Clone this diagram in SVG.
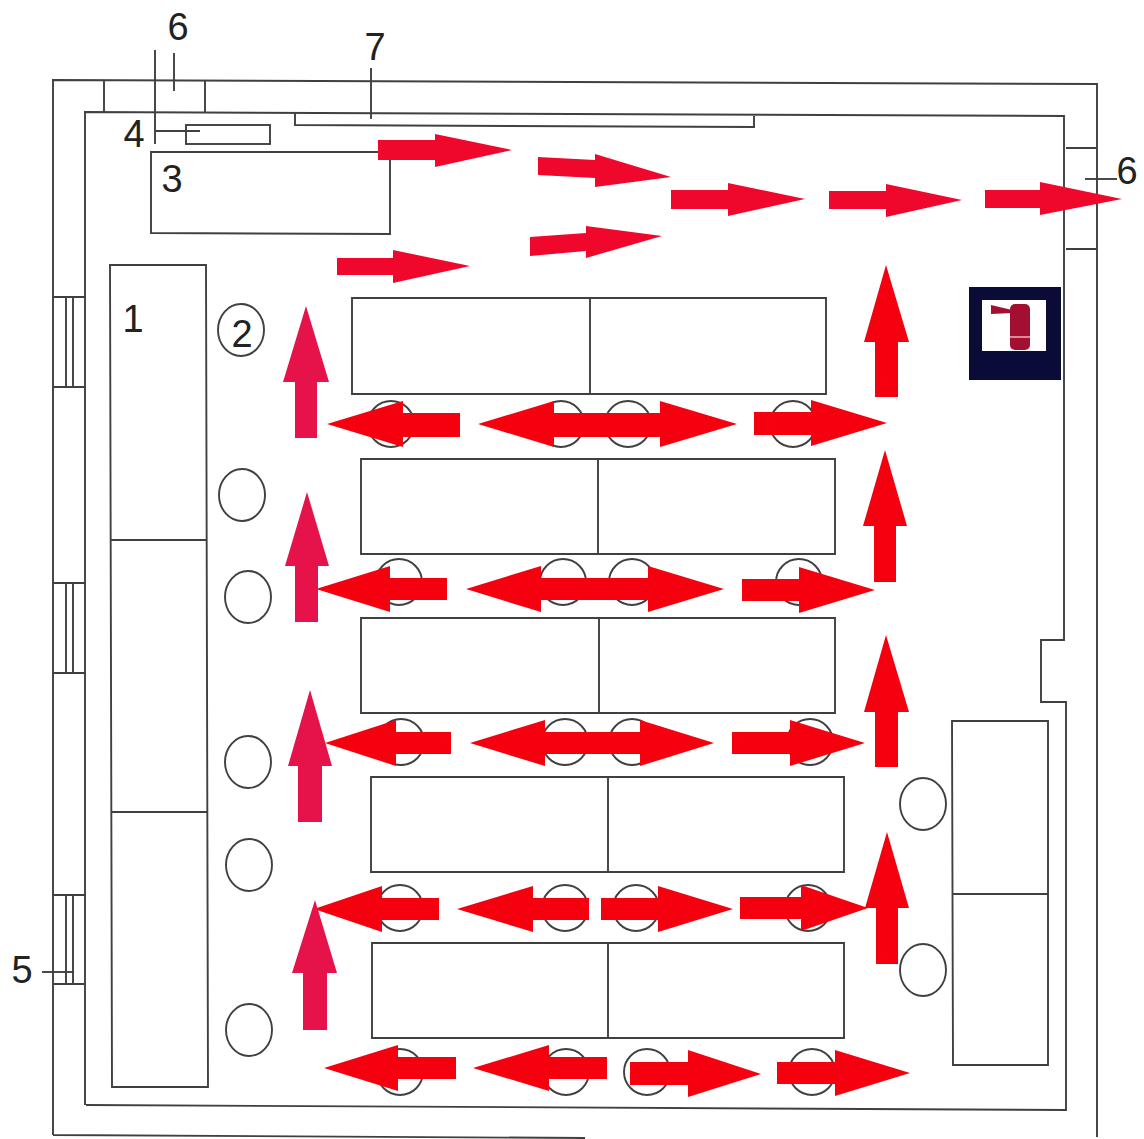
<svg xmlns="http://www.w3.org/2000/svg" width="1144" height="1139" viewBox="0 0 1144 1139">
<style>
.l{fill:none;stroke:#404040;stroke-width:1.9}
.t{font-family:"Liberation Sans",Arial,sans-serif;font-size:38px;fill:#222}
.a{fill:#f0082c}
.r{fill:#f5000f}
.p{fill:#e6124a}
</style>
<rect width="1144" height="1139" fill="#fff"/>
<g id="walls">
<path class="l" d="M53 1135V80L1097 84V1137M53 1135L585 1138"/>
<path class="l" d="M85 1105V112L1064 116V640H1041V702H1066V1110L86 1105"/>
<path class="l" d="M104 80V112M205 80V112M1066 148H1097M1066 249H1097"/>
</g>
<g id="windows">
<path class="l" d="M53 297H86M53 387H86M66 297V387M73 297V387"/>
<path class="l" d="M53 583H86M53 673H86M66 583V673M73 583V673"/>
<path class="l" d="M53 895H86M53 984H86M66 895V984M73 895V984"/>
</g>
<g id="item-1"><path class="l" d="M110 265H206L208 1087H112ZM111 540H207M112 812H208"/><text class="t" x="133" y="332" text-anchor="middle">1</text></g>
<g id="item-3"><path class="l" d="M151 152H390V234L151 233Z"/><text class="t" x="172" y="192" text-anchor="middle">3</text></g>
<g id="item-4"><rect class="l" x="186" y="125" width="84" height="19"/><path class="l" d="M155 50V144M155 131H200"/><text class="t" x="134" y="147" text-anchor="middle">4</text></g>
<g id="item-6-top"><path class="l" d="M174 53V91"/><text class="t" x="178" y="40" text-anchor="middle">6</text></g>
<g id="item-7"><path class="l" d="M295 113V125L754 127V116M371 68V119"/><text class="t" x="375" y="60" text-anchor="middle">7</text></g>
<g id="item-6-right"><path class="l" d="M1085 179H1117"/><text class="t" x="1127" y="184" text-anchor="middle">6</text></g>
<g id="item-5"><path class="l" d="M42 972H74"/><text class="t" x="22" y="983" text-anchor="middle">5</text></g>
<g id="item-2"><ellipse class="l" cx="241" cy="330" rx="23" ry="26"/><text class="t" x="242" y="347" text-anchor="middle">2</text></g>
<g id="benches">
<path class="l" d="M352 298H826V394H352ZM590 298V394"/>
<path class="l" d="M361 459H835V554H361ZM598 459V554"/>
<path class="l" d="M361 618H835V713H361ZM599 618V713"/>
<path class="l" d="M371 777H844V872H371ZM608 777V872"/>
<path class="l" d="M372 943H844V1038H372ZM608 943V1038"/>
<path class="l" d="M952 721H1048V1065L953 1065ZM953 894H1048"/>
</g>
<g id="stools" class="l">
<ellipse cx="242" cy="495" rx="23" ry="26"/><ellipse cx="248" cy="597" rx="23" ry="26"/><ellipse cx="248" cy="762" rx="23" ry="26"/><ellipse cx="249" cy="865" rx="23" ry="26"/><ellipse cx="249" cy="1030" rx="23" ry="26"/>
<ellipse cx="923" cy="804" rx="23" ry="26"/><ellipse cx="923" cy="970" rx="23" ry="26"/>
<ellipse cx="391" cy="424" rx="23" ry="23"/><ellipse cx="561" cy="424" rx="23" ry="23"/><ellipse cx="628" cy="424" rx="23" ry="23"/><ellipse cx="793" cy="424" rx="23" ry="23"/>
<ellipse cx="399" cy="582" rx="23" ry="23"/><ellipse cx="563" cy="582" rx="23" ry="23"/><ellipse cx="632" cy="582" rx="23" ry="23"/><ellipse cx="799" cy="582" rx="23" ry="23"/>
<ellipse cx="401" cy="742" rx="23" ry="23"/><ellipse cx="565" cy="742" rx="23" ry="23"/><ellipse cx="632" cy="742" rx="23" ry="23"/><ellipse cx="810" cy="742" rx="23" ry="23"/>
<ellipse cx="400" cy="908" rx="23" ry="23"/><ellipse cx="565" cy="908" rx="23" ry="23"/><ellipse cx="636" cy="908" rx="23" ry="23"/><ellipse cx="808" cy="908" rx="23" ry="23"/>
<ellipse cx="400" cy="1072" rx="23" ry="23"/><ellipse cx="566" cy="1072" rx="23" ry="23"/><ellipse cx="647" cy="1072" rx="23" ry="23"/><ellipse cx="812" cy="1072" rx="23" ry="23"/>
</g>
<g id="extinguisher-sign">
<rect x="969" y="287" width="92" height="93" fill="#0b0b38"/>
<rect x="982" y="300" width="64" height="51" fill="#fff"/>
<rect x="1010" y="304" width="20" height="46" rx="5" fill="#a30f30"/>
<path d="M991 305L1012 310V313L991 314Z" fill="#a30f30"/>
<path d="M1010 337H1030" stroke="#f0b0b8" stroke-width="1.5"/>
</g>
<g id="connectors">
<polygon class="a" points="378,140 435,140 435,134 512,150 435,167 435,160 378,160"/>
<polygon class="a" points="538,157 595,160 595,154 671,177 595,187 595,178 538,175"/>
<polygon class="a" points="671,190 728,190 728,183 805,199 728,216 728,209 671,209"/>
<polygon class="a" points="829,191 886,191 886,184 962,200 886,217 886,209 829,209"/>
<polygon class="a" points="985,190 1040,190 1040,182 1122,199 1040,215 1040,208 985,208"/>
<polygon class="a" points="530,237 586,233 586,226 662,236 586,258 586,251 530,256"/>
<polygon class="a" points="337,258 393,258 393,250 470,266 393,283 393,275 337,275"/>

<polygon class="r" points="460,413 403,413 403,401 327,424 403,447 403,437 460,437"/>
<polygon class="r" points="610,413 554,413 554,401 478,424 554,447 554,437 610,437"/>
<polygon class="r" points="605,413 660,413 660,401 737,424 660,447 660,437 605,437"/>
<polygon class="r" points="754,412 811,412 811,400 887,423 811,446 811,435 754,435"/>

<polygon class="r" points="447,578 390,578 390,566 316,589 390,612 390,600 447,600"/>
<polygon class="r" points="597,578 541,578 541,566 466,589 541,612 541,600 597,600"/>
<polygon class="r" points="592,578 648,578 648,566 724,589 648,612 648,600 592,600"/>
<polygon class="r" points="742,579 799,579 799,567 875,590 799,613 799,601 742,601"/>

<polygon class="r" points="451,732 396,732 396,720 325,743 396,766 396,754 451,754"/>
<polygon class="r" points="602,732 545,732 545,720 470,743 545,766 545,754 602,754"/>
<polygon class="r" points="582,732 640,732 640,720 714,743 640,766 640,754 582,754"/>
<polygon class="r" points="732,732 790,732 790,720 865,743 790,766 790,754 732,754"/>

<polygon class="r" points="439,898 382,898 382,886 314,909 382,932 382,920 439,920"/>
<polygon class="r" points="589,898 533,898 533,886 457,909 533,932 533,920 589,920"/>
<polygon class="r" points="601,898 658,898 658,886 733,909 658,932 658,920 601,920"/>
<polygon class="r" points="740,897 801,897 801,885 868,908 801,931 801,919 740,919"/>

<polygon class="r" points="456,1057 398,1057 398,1045 324,1068 398,1091 398,1079 456,1079"/>
<polygon class="r" points="607,1057 549,1057 549,1045 473,1068 549,1091 549,1079 607,1079"/>
<polygon class="r" points="630,1062 688,1062 688,1050 761,1074 688,1097 688,1085 630,1085"/>
<polygon class="r" points="777,1062 835,1062 835,1050 910,1073 835,1096 835,1084 777,1084"/>

<polygon class="p" points="295,438 295,382 283,382 306,306 329,382 317,382 317,438"/>
<polygon class="p" points="295,622 295,566 285,566 307,492 329,566 318,566 318,622"/>
<polygon class="p" points="298,822 298,766 288,766 310,690 332,766 322,766 322,822"/>
<polygon class="p" points="303,1030 303,973 292,973 315,900 337,973 327,973 327,1030"/>
<polygon class="r" points="875,397 875,342 864,342 886,265 909,342 898,342 898,397"/>
<polygon class="r" points="874,582 874,526 863,526 885,450 907,526 896,526 896,582"/>
<polygon class="r" points="875,767 875,712 864,712 886,635 909,712 898,712 898,767"/>
<polygon class="r" points="876,964 876,908 865,908 887,832 909,908 898,908 898,964"/>
</g>
</svg>
